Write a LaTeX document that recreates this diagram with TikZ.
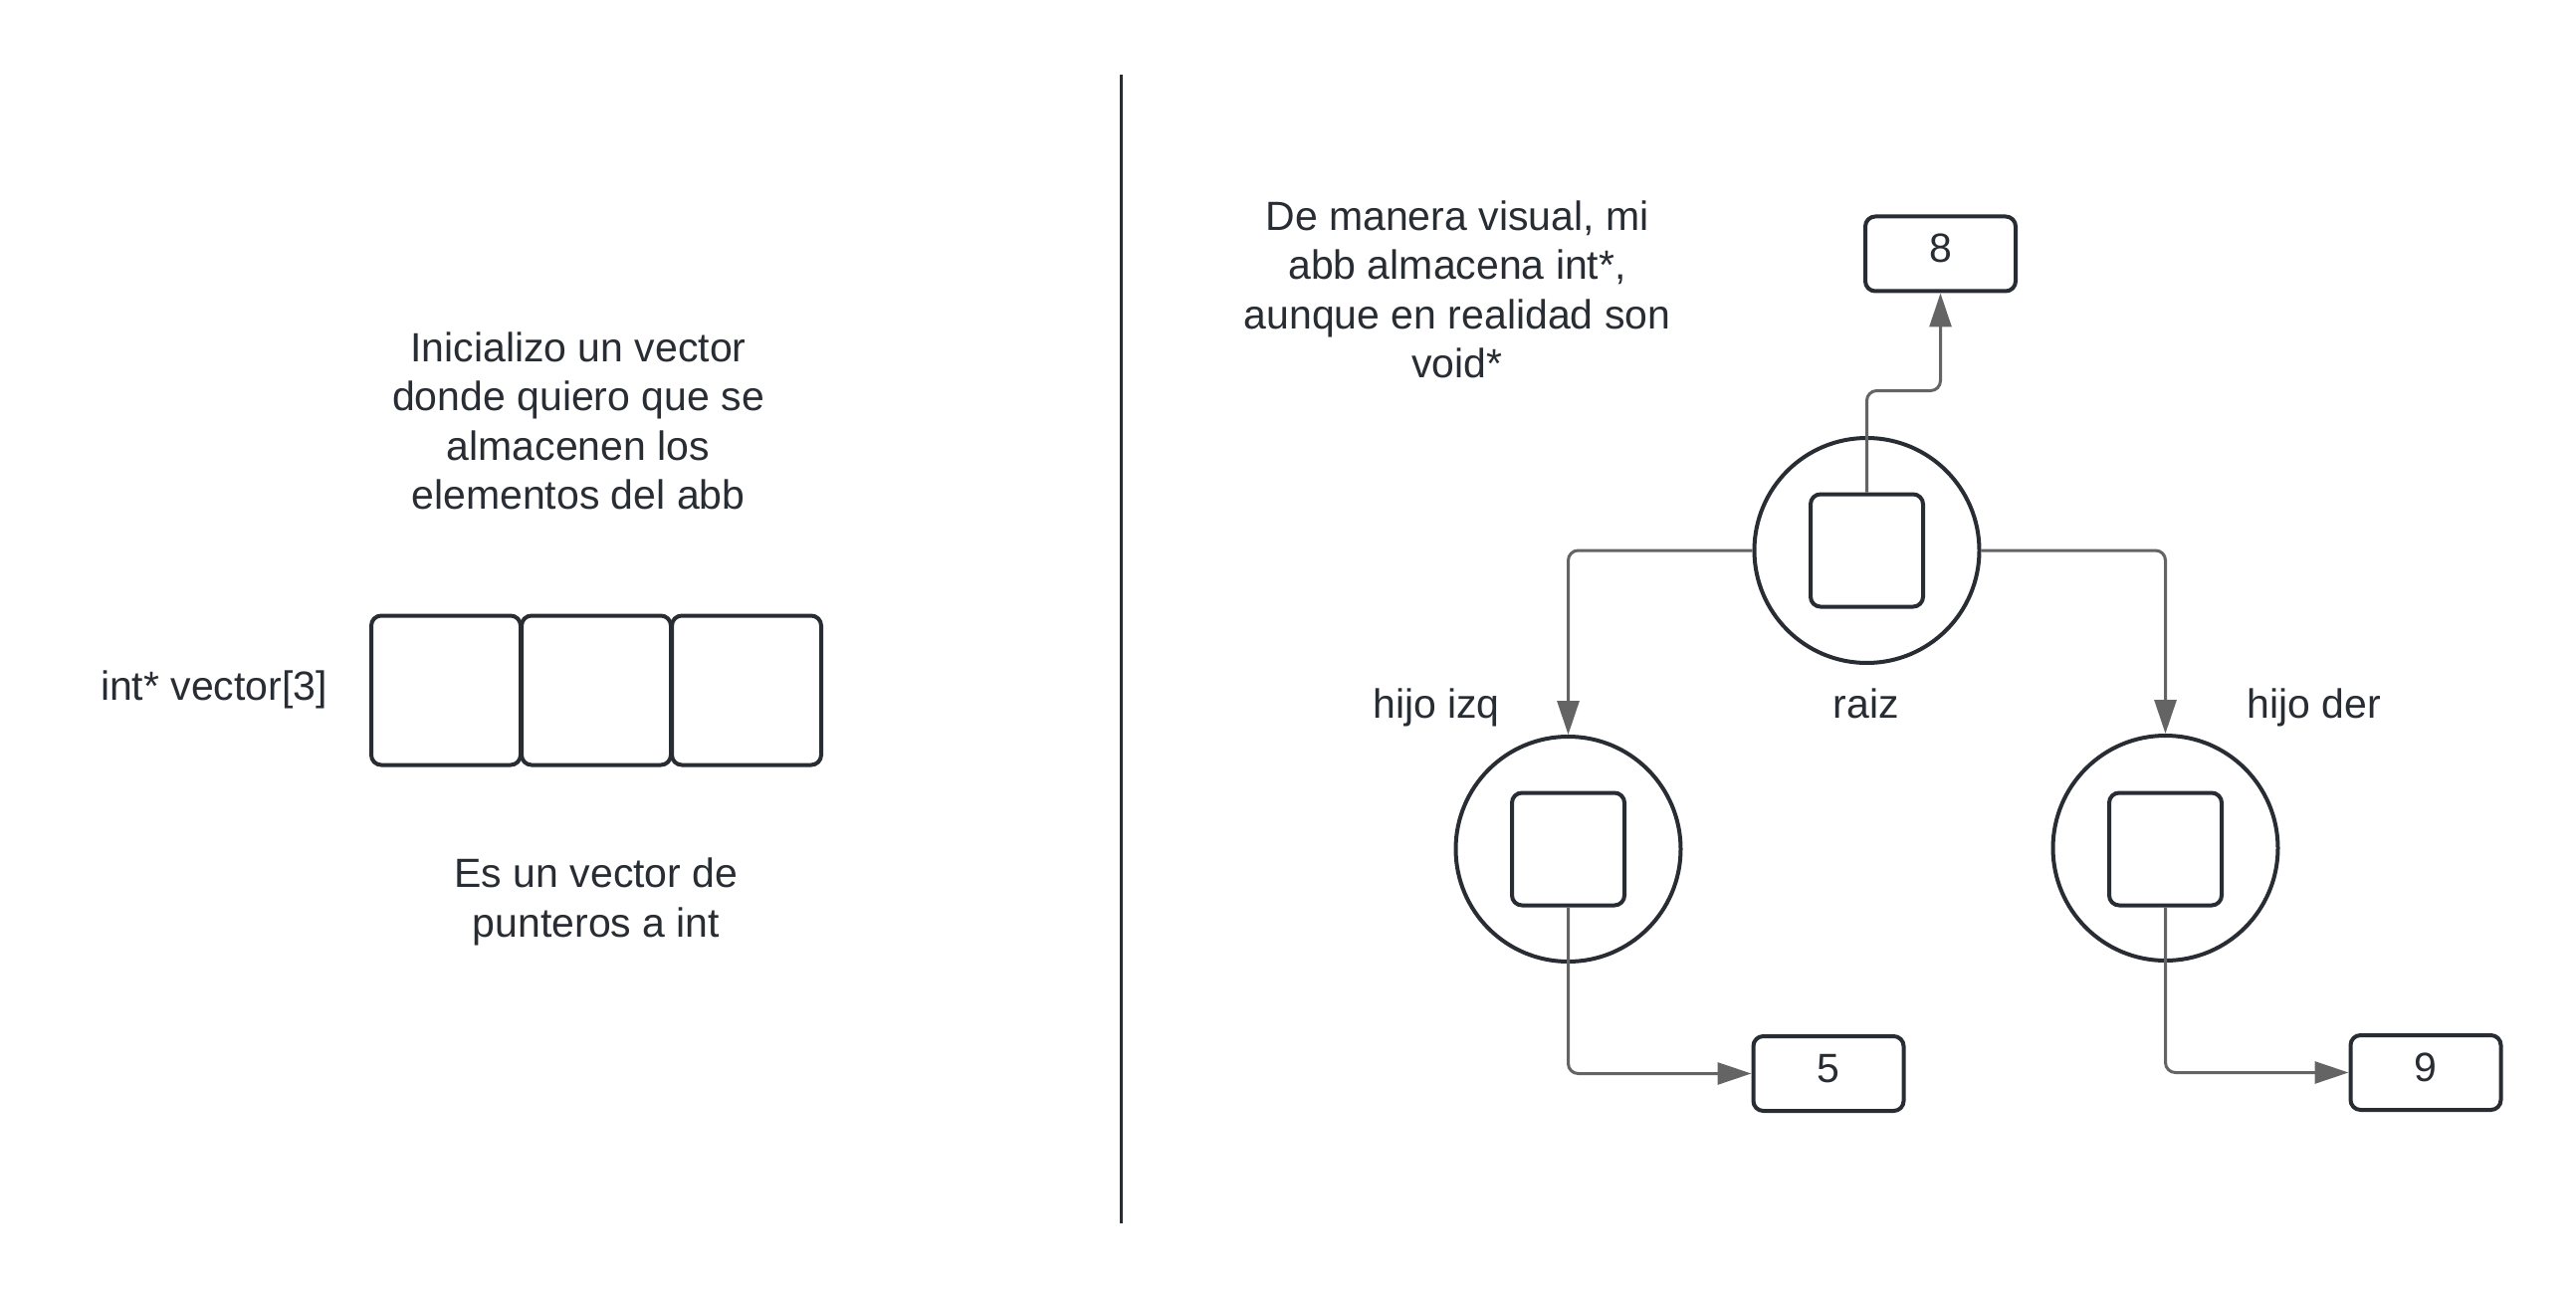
\documentclass[tikz,border=0pt]{standalone}
\usepackage{fontspec}
\setmainfont{Liberation Sans}
\usetikzlibrary{arrows.meta}
\definecolor{ink}{HTML}{282C33}
\definecolor{wire}{HTML}{646464}
\begin{document}
\begin{tikzpicture}[x=1pt,y=-1pt,
 txt/.style={text=ink,font=\fontsize{41}{49.5}\selectfont,align=center,inner sep=0pt},
 cell/.style={draw=ink,line width=4pt,rounded corners=10pt,minimum width=150pt,minimum height=150pt,inner sep=0pt},
 nodecirc/.style={circle,draw=ink,line width=4pt,minimum size=226pt,inner sep=0pt},
 slot/.style={draw=ink,line width=4pt,rounded corners=10pt,minimum width=113pt,minimum height=113pt,inner sep=0pt},
 valbox/.style={draw=ink,line width=4pt,rounded corners=10pt,minimum width=151pt,minimum height=75pt,inner sep=0pt,text=ink,font=\fontsize{41}{49.5}\selectfont,text height=29.4pt,text depth=12pt},
 link/.style={draw=wire,line width=3pt,rounded corners=10pt,-{Triangle[length=34pt,width=22pt]}}]
\useasboundingbox[fill=white] (0,0) rectangle (2588,1305);

% left half
\node[txt] (t1) at (581,423) {Inicializo un vector\\donde quiero que se\\almacenen los\\elementos del abb};
\node[txt,anchor=base] (t3) at (215,703) {int* vector[3]};
\node[cell] (v1) at (448,693.5) {};
\node[cell] (v2) at (599,693.5) {};
\node[cell] (v3) at (750,693.5) {};
\node[txt] (t2) at (599,906) {Es un vector de\\punteros a int};

% divider
\coordinate (dtop) at (1126,75);
\coordinate (dbot) at (1126,1229);
\draw[draw=ink,line width=3pt] (dtop) -- (dbot);

% right half
\node[txt] (t4) at (1464,291) {De manera visual, mi\\abb almacena int*,\\aunque en realidad son\\void*};

\node[nodecirc] (root) at (1875.5,553) {};
\node[slot] (rslot) at (1875.5,553) {};
\node[nodecirc] (lc) at (1575.5,853) {};
\node[slot] (lslot) at (1575.5,853) {};
\node[nodecirc] (rc) at (2175.5,852) {};
\node[slot] (rcslot) at (2175.5,853) {};

\node[valbox] (b8) at (1949.5,255) {8};
\node[valbox] (b5) at (1837,1078.5) {5};
\node[valbox] (b9) at (2437,1077.5) {9};

\node[txt,anchor=base] (hi) at (1443,721) {hijo izq};
\node[txt,anchor=base] (ra) at (1875,721) {raiz};
\node[txt,anchor=base] (hd) at (2325,721) {hijo der};

\draw[link] (rslot.north) -- ++(0,-102) -| (b8.south);
\draw[link] (root.west) -| (lc.north);
\draw[link] (root.east) -| (rc.north);
\draw[link] (lslot.south) |- (b5.west);
\draw[link] (rcslot.south) |- (b9.west);
\end{tikzpicture}
\end{document}
